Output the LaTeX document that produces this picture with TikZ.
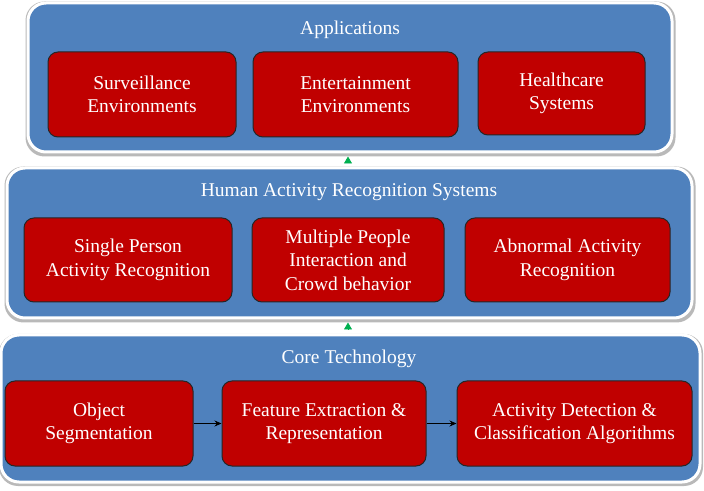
\documentclass[tikz,border=0pt]{standalone}
\usepackage{fontspec}
\setmainfont{Liberation Serif}
\usetikzlibrary{arrows.meta}
\definecolor{panelblue}{HTML}{4F81BD}
\definecolor{boxred}{HTML}{C00000}
\definecolor{arrgreen}{HTML}{00B050}
\tikzset{
  panel/.style={draw=white, line width=3pt, fill=panelblue, rounded corners=18pt, minimum width=#1, inner sep=0pt},
  shadowbox/.style={fill=gray!55, rounded corners=19pt, inner sep=0pt},
  redbox/.style={draw=black!85, line width=1pt, fill=boxred, rounded corners=10pt, text=white, align=center, inner sep=0pt, font=\fontsize{19.5}{23.5}\selectfont},
  ptitle/.style={text=white, font=\fontsize{19.5}{23}\selectfont, inner sep=0pt},
  uparrow/.style={draw=arrgreen, line width=0.8pt, -{Triangle[length=7pt,width=8pt]}, shorten >=3pt, shorten <=4pt},
  flow/.style={draw=black, line width=1pt, -{Stealth[length=7pt,width=6pt]}}
}
\begin{document}
\begin{tikzpicture}[x=1pt,y=1pt]
\useasboundingbox (0,0) rectangle (704,490);
\fill[white] (0,0) rectangle (704,490);
% shadows
\node[shadowbox, minimum width=650pt, minimum height=155pt] at (350.5,411) {};
\node[shadowbox, minimum width=691pt, minimum height=156pt] at (350,245.5) {};
\node[shadowbox, minimum width=704pt, minimum height=152pt] at (351,80) {};
% panels
\node[panel=644pt, minimum height=149pt] (p1) at (350,412.5) {};
\node[panel=685pt, minimum height=150pt] (p2) at (349.5,247) {};
\node[panel=699pt, minimum height=147pt] (p3) at (350.5,81.5) {};
% titles
\node[ptitle] (t1) at (350,460) {Applications};
\node[ptitle] (t2) at (349,297.5) {Human Activity Recognition Systems};
\node[ptitle] (t3) at (349,131.5) {Core Technology};
% application boxes
\node[redbox, minimum width=188pt, minimum height=85pt] (a1) at (142,395.5) {Surveillance\\Environments};
\node[redbox, minimum width=205pt, minimum height=85pt] (a2) at (355.5,395.5) {Entertainment\\Environments};
\node[redbox, minimum width=167pt, minimum height=83pt] (a3) at (561.5,396.5) {Healthcare\\Systems};
% HAR boxes
\node[redbox, minimum width=208pt, minimum height=84pt] (h1) at (128,230) {Single Person\\Activity Recognition};
\node[redbox, minimum width=192pt, minimum height=84pt] (h2) at (348,230) {Multiple People\\Interaction and\\Crowd behavior};
\node[redbox, minimum width=205pt, minimum height=84pt] (h3) at (567.5,230) {Abnormal Activity\\Recognition};
% core boxes
\node[redbox, minimum width=188pt, minimum height=85pt] (c1) at (99,66.5) {Object\\Segmentation};
\node[redbox, minimum width=204pt, minimum height=85pt] (c2) at (324,66.5) {Feature Extraction \&\\Representation};
\node[redbox, minimum width=235pt, minimum height=85pt] (c3) at (574.5,66.5) {Activity Detection \&\\Classification Algorithms};
% connectors
\draw[flow] (c1.east) -- (c2.west);
\draw[flow] (c2.east) -- (c3.west);
\draw[uparrow] (p2.north -| 348,0) -- (p1.south -| 348,0);
\draw[uparrow] (p3.north -| 348,0) -- (p2.south -| 348,0);
\end{tikzpicture}
\end{document}
